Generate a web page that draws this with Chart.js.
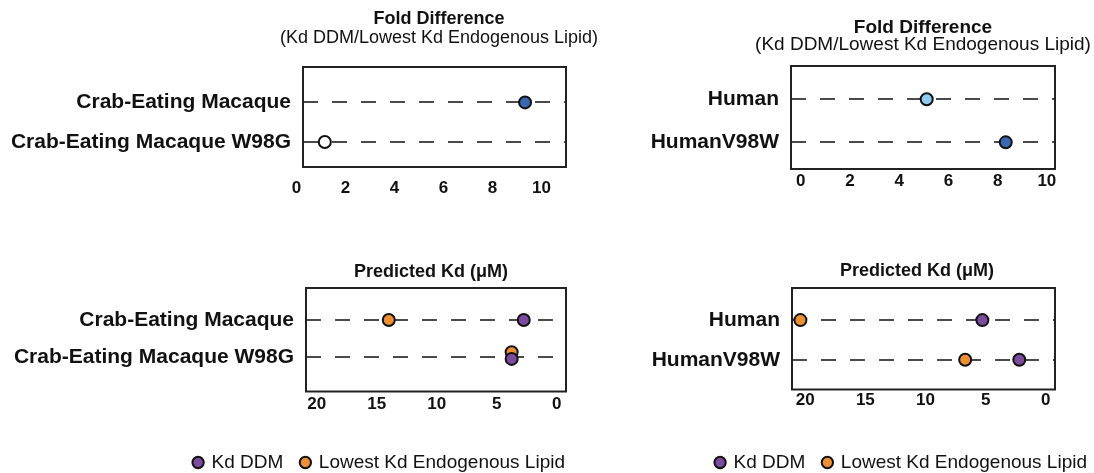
<!DOCTYPE html>
<html><head><meta charset="utf-8">
<script src="https://cdn.jsdelivr.net/npm/chart.js@4"></script>
<style>
html,body{margin:0;padding:0;background:#fff;width:1094px;height:473px;overflow:hidden;position:relative;}
canvas{position:absolute;}
</style></head><body>
<canvas id="c1" width="620" height="215" style="left:0;top:0"></canvas>
<canvas id="c2" width="514" height="215" style="left:580px;top:0"></canvas>
<canvas id="c3" width="583" height="242" style="left:0;top:240px"></canvas>
<canvas id="c4" width="525" height="242" style="left:580px;top:240px"></canvas>
<script>
// ---------- data ----------
const macaqueRows = ['Crab-Eating Macaque', 'Crab-Eating Macaque W98G'];
const humanRows = ['Human', 'HumanV98W'];
const macaqueFold = [9.33, 1.16];
const humanFold = [5.12, 8.33];
const macaqueKdDDM = [2.75, 3.76];
const macaqueKdLipid = [14.0, 3.76];
const humanKdDDM = [5.27, 2.2];
const humanKdLipid = [20.4, 6.7];
const foldTicks = [0, 2, 4, 6, 8, 10];
const kdTicks = [20, 15, 10, 5, 0];
const seriesNames = ['Kd DDM', 'Lowest Kd Endogenous Lipid'];
const foldTitle = 'Fold Difference';
const foldSubtitle = '(Kd DDM/Lowest Kd Endogenous Lipid)';
const kdTitle = 'Predicted Kd (\u03BCM)';

// ---------- styles ----------
const FONT = "'Liberation Sans', Arial, Helvetica, sans-serif";
const DARK_BLUE = '#3a67b0', LIGHT_BLUE = '#8ecbee', WHITE = '#ffffff';
const PURPLE = '#7d4b9e', ORANGE = '#ec8f35', EDGE = '#111111';
const macaqueFoldColors = [DARK_BLUE, WHITE];
const humanFoldColors = [LIGHT_BLUE, DARK_BLUE];

const framePlugin = {
  id: 'frame',
  beforeDatasetsDraw(chart) {
    const a = chart.chartArea, ctx = chart.ctx;
    ctx.save();
    ctx.strokeStyle = '#222';
    ctx.lineWidth = 2;
    ctx.setLineDash([]);
    ctx.strokeRect(a.left, a.top, a.right - a.left, a.bottom - a.top);
    ctx.restore();
  }
};

// panel heading drawn centred at a given x (no width squeezing)
const headingPlugin = {
  id: 'heading',
  afterDraw(chart, args, opts) {
    const ctx = chart.ctx;
    ctx.save();
    ctx.fillStyle = '#111';
    ctx.textAlign = 'center';
    ctx.textBaseline = 'middle';
    (opts.lines || []).forEach(l => {
      ctx.font = l.font;
      ctx.fillText(l.text, opts.x, l.y);
    });
    ctx.restore();
  }
};

function yScale(labels, min, max, width) {
  return {
    type: 'linear', position: 'left', reverse: true, min, max, bounds: 'data',
    afterBuildTicks: s => { s.ticks = labels.map((_, i) => ({ value: i + 1 })); },
    afterFit: s => { s.width = width; },
    ticks: {
      autoSkip: false, padding: 12, color: '#111',
      font: { family: FONT, size: 21, weight: 'bold' },
      callback: v => labels[Math.round(v) - 1] ?? ''
    },
    grid: { display: true, drawOnChartArea: true, drawTicks: false, color: '#4a4a4a', lineWidth: 2 },
    border: { display: false, dash: [15, 14] }
  };
}
function rightPad(width) {
  return {
    type: 'linear', position: 'right', display: true,
    afterFit: s => { s.width = width; },
    ticks: { display: false }, grid: { display: false, drawTicks: false }, border: { display: false }
  };
}
function xScale(ticks, min, max, reverse, height, pad) {
  return {
    type: 'linear', position: 'bottom', min, max, reverse, bounds: 'data',
    afterBuildTicks: s => { s.ticks = ticks.map(v => ({ value: v })); },
    afterFit: s => { s.height = height; },
    ticks: { autoSkip: false, maxRotation: 0, padding: pad, color: '#111',
             font: { family: FONT, size: 17, weight: 'bold' } },
    grid: { display: false, drawTicks: false }, border: { display: false }
  };
}
function heading(x, lines) {
  return { x, lines };
}
const pointStyle = { pointRadius: 6, pointHoverRadius: 6, pointBorderColor: EDGE, pointBorderWidth: 2,
                     borderColor: EDGE, borderWidth: 2, pointStyle: 'circle' };

function foldChart(id, rows, values, colors, ymin, ymax, yw, rw, xmin, xmax, xh, xpad, top, head) {
  new Chart(document.getElementById(id), {
    type: 'scatter',
    data: { datasets: [Object.assign({
      label: 'Fold Difference',
      data: values.map((v, i) => ({ x: v, y: i + 1 })),
      backgroundColor: colors, pointBackgroundColor: colors
    }, pointStyle)] },
    options: {
      responsive: false, animation: false, devicePixelRatio: 1,
      layout: { padding: { top, left: 0, right: 0, bottom: 0 } },
      plugins: { legend: { display: false }, tooltip: { enabled: false }, heading: head },
      scales: { x: xScale(foldTicks, xmin, xmax, false, xh, xpad), y: yScale(rows, ymin, ymax, yw), yR: rightPad(rw) }
    },
    plugins: [framePlugin, headingPlugin]
  });
}

function kdChart(id, rows, ddm, lipid, ymin, ymax, yw, rw, xmin, xmax, xh, xpad, top, head) {
  const near = ddm.map((v, i) => Math.abs(v - lipid[i]) < 0.5);
  new Chart(document.getElementById(id), {
    type: 'scatter',
    data: { datasets: [
      Object.assign({ label: seriesNames[0],
        data: ddm.map((v, i) => ({ x: v, y: i + 1 + (near[i] ? 0.05 : 0) })),
        backgroundColor: PURPLE, pointBackgroundColor: PURPLE }, pointStyle),
      Object.assign({ label: seriesNames[1],
        data: lipid.map((v, i) => ({ x: v, y: i + 1 - (near[i] ? 0.13 : 0) })),
        backgroundColor: ORANGE, pointBackgroundColor: ORANGE }, pointStyle)
    ] },
    options: {
      responsive: false, animation: false, devicePixelRatio: 1,
      layout: { padding: { top, left: 0, right: 0, bottom: 0 } },
      plugins: {
        tooltip: { enabled: false },
        heading: head,
        legend: { display: true, position: 'bottom', align: 'end',
          labels: { usePointStyle: true, pointStyle: 'circle', boxWidth: 8, boxHeight: 8, padding: 18,
                    color: '#111', font: { family: FONT, size: 19 } } }
      },
      scales: { x: xScale(kdTicks, xmin, xmax, true, xh, xpad), y: yScale(rows, ymin, ymax, yw), yR: rightPad(rw) }
    },
    plugins: [framePlugin, headingPlugin]
  });
}

foldChart('c1', macaqueRows, macaqueFold, macaqueFoldColors, 0.106, 2.63, 303, 54, 0.27, 11.0, 48, 11, 67,
  heading(439, [
    { text: foldTitle, font: `bold 18px ${FONT}`, y: 19 },
    { text: foldSubtitle, font: `18px ${FONT}`, y: 38 }
  ]));
foldChart('c2', humanRows, humanFold, humanFoldColors, 0.226, 2.62, 211, 39, -0.39, 10.33, 46, 2, 66,
  heading(343, [
    { text: foldTitle, font: `bold 19px ${FONT}`, y: 27.5 },
    { text: foldSubtitle, font: `19px ${FONT}`, y: 44.5 }
  ]));
kdChart('c3', macaqueRows, macaqueKdDDM, macaqueKdLipid, 0.138, 2.93, 306, 17, -0.77, 20.9, 43.5, 2.5, 48,
  heading(431, [{ text: kdTitle, font: `bold 18px ${FONT}`, y: 32 }]));
kdChart('c4', humanRows, humanKdDDM, humanKdLipid, 0.19, 2.75, 212, 50, -0.77, 21.1, 45.5, 1, 48,
  heading(337, [{ text: kdTitle, font: `bold 18px ${FONT}`, y: 31 }]));
</script>
</body></html>
